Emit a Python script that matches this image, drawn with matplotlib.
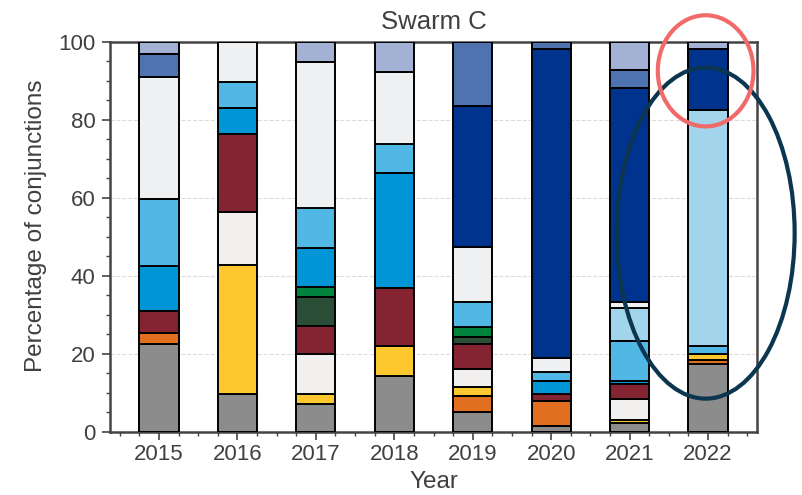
import matplotlib
matplotlib.use('Agg')
import matplotlib.pyplot as plt
import numpy as np
from matplotlib.patches import Ellipse
from matplotlib.ticker import MultipleLocator

plt.rcParams['font.family'] = ['Liberation Sans', 'DejaVu Sans']

years = [2015, 2016, 2017, 2018, 2019, 2020, 2021, 2022]

# stack order, bottom to top
colors = ['#8c8c8c', '#e07020', '#fdc82f', '#f1f0ee', '#842433', '#2b4e37',
          '#00843d', '#0096d6', '#51b7e5', '#a2d4eb', '#eff0f2', '#00338d',
          '#4f72b0', '#a2b1d4']

# percentage share of each group per year
grey       = [22.5,  9.7,  7.1, 14.4,  5.0,  1.5,  2.2, 17.5]
orange     = [ 2.8,  0.0,  0.0,  0.0,  4.2,  6.4,  0.0,  0.9]
yellow     = [ 0.0, 33.1,  2.6,  7.7,  2.3,  0.0,  0.9,  1.5]
warm_white = [ 0.0, 13.6, 10.2,  0.0,  4.6,  0.0,  5.4,  0.0]
maroon     = [ 5.7, 20.1,  7.3, 14.7,  6.4,  1.8,  3.7,  0.0]
dark_green = [ 0.0,  0.0,  7.5,  0.0,  1.9,  0.0,  0.0,  0.0]
green      = [ 0.0,  0.0,  2.6,  0.0,  2.4,  0.0,  0.0,  0.0]
blue       = [11.6,  6.5,  9.8, 29.5,  0.0,  3.4,  0.9,  0.0]
sky_blue   = [17.2,  6.8, 10.3,  7.6,  6.5,  2.3, 10.2,  2.2]
light_blue = [ 0.0,  0.0,  0.0,  0.0,  0.0,  0.0,  8.4, 60.5]
cool_white = [31.2, 10.2, 37.5, 18.4, 14.1,  3.5,  1.6,  0.0]
navy       = [ 0.0,  0.0,  0.0,  0.0, 36.1, 79.4, 55.0, 15.7]
mid_blue   = [ 5.8,  0.0,  0.0,  0.0, 16.5,  1.7,  4.4,  0.0]
pale_blue  = [ 3.2,  0.0,  5.1,  7.7,  0.0,  0.0,  7.3,  1.7]

layers = [grey, orange, yellow, warm_white, maroon, dark_green, green, blue,
          sky_blue, light_blue, cool_white, navy, mid_blue, pale_blue]

txt = '#404040'
fig = plt.figure(figsize=(8.02, 4.95), dpi=100)
ax = fig.add_axes([0.1372, 0.1273, 0.8067, 0.7879])

bottom = np.zeros(len(years))
for vals, c in zip(layers, colors):
    vals = np.array(vals)
    ax.bar(years, vals, width=0.5, bottom=bottom, color=c,
           edgecolor='black', linewidth=1.4, zorder=3)
    bottom += vals

ax.set_xlim(2014.375, 2022.625)
ax.set_ylim(0, 100)
ax.set_xticks(years)
ax.xaxis.set_minor_locator(MultipleLocator(0.25))
ax.yaxis.set_major_locator(MultipleLocator(20))
ax.yaxis.set_minor_locator(MultipleLocator(5))
ax.grid(axis='y', color='#dcdcdc', linestyle='--', linewidth=0.8, zorder=0)

for s in ax.spines.values():
    s.set_color('#444444')
    s.set_linewidth(1.8)
ax.tick_params(which='both', direction='out', colors='#444444',
               labelcolor=txt, labelsize=16)
ax.tick_params(which='major', length=5.5, width=1.2)
ax.tick_params(which='minor', length=3, width=1.0)
ax.tick_params(axis='y', pad=5)

ax.set_xlabel('Year', fontsize=17.5, color=txt, labelpad=4)
ax.set_ylabel('Percentage of conjunctions', fontsize=17.5, color=txt)
ax.yaxis.set_label_coords(-0.097, 0.53)
ax.set_title('Swarm C', fontsize=18.5, color=txt, pad=9)

# highlight rings around the 2022 bar
ax.add_patch(Ellipse((2021.97, 51.0), 2.27, 84.9, fill=False,
                     edgecolor='#0c3550', linewidth=3, zorder=5, clip_on=False))
ax.add_patch(Ellipse((2021.97, 92.6), 1.22, 28.5, fill=False,
                     edgecolor='#f06a6a', linewidth=3, zorder=6, clip_on=False))

fig.savefig('out.png', dpi=100)
